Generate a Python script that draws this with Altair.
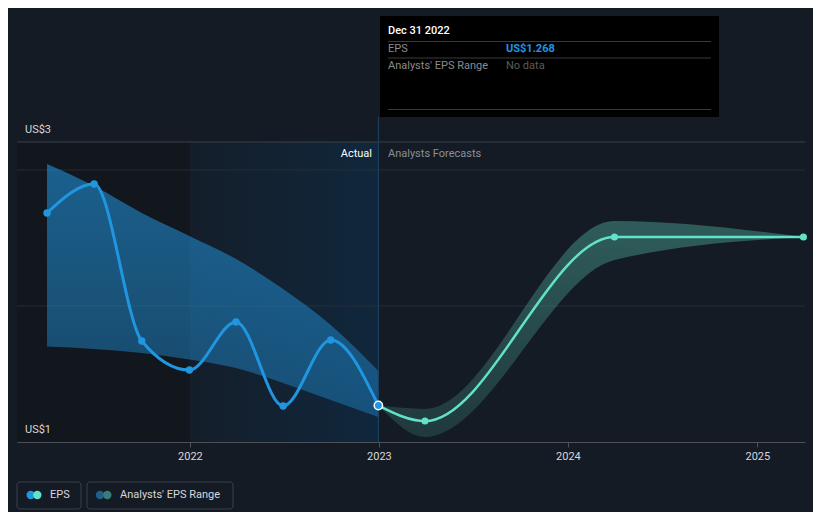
import altair as alt
import pandas as pd

# ---- data ----
actual_dates = ["2021-03-31", "2021-06-30", "2021-09-30", "2021-12-31",
                "2022-03-31", "2022-06-30", "2022-09-30", "2022-12-31"]
actual_eps = [2.684, 2.897, 1.743, 1.529, 1.882, 1.265, 1.750, 1.268]
past_range_high = [3.044, 2.882, 2.684, 2.515, 2.346, 2.125, 1.860, 1.522]
past_range_low = [1.702, 1.684, 1.654, 1.607, 1.544, 1.434, 1.309, 1.184]

forecast_dates = ["2022-12-31", "2023-03-31", "2024-03-31", "2025-03-31"]
forecast_eps = [1.268, 1.154, 2.507, 2.507]
forecast_high = [1.268, 1.243, 2.625, 2.507]
forecast_low = [1.268, 1.037, 2.338, 2.507]

grid_values = [2.0, 3.0]
y_top = 3.2059
y_bottom = 1.0
year_ticks = [2022, 2023, 2024, 2025]

BG = "#151b24"
BLUE = "#2196e0"
TEAL = "#62e2c9"
FONT = "Roboto"
FS = 11

actual = pd.DataFrame({"date": actual_dates, "v": actual_eps,
                       "hi": past_range_high, "lo": past_range_low})
fc = pd.DataFrame({"date": forecast_dates, "v": forecast_eps,
                   "hi": forecast_high, "lo": forecast_low})
grid = pd.DataFrame({"v": grid_values})
top = pd.DataFrame({"v": [y_top]})
regions = pd.DataFrame({"date": ["2021-02-01"], "date2": ["2022-01-01"],
                        "v": [y_bottom], "v2": [y_top]})
highlight = pd.DataFrame({"date": ["2022-01-01"], "date2": ["2022-12-31"],
                          "v": [y_bottom], "v2": [y_top]})
now = pd.DataFrame({"date": ["2022-12-31"]})
last = actual.tail(1)

xscale = alt.Scale(domain=[alt.DateTime(year=2021, month=2, date=1),
                           alt.DateTime(year=2025, month=4, date=3)])
yscale = alt.Scale(domain=[y_bottom, y_top], nice=False, zero=False)
xaxis = alt.Axis(values=[alt.DateTime(year=y, month=1, date=1) for y in year_ticks],
                 format="%Y", grid=False, domainColor="#4b5059", tickColor="#4b5059",
                 tickSize=5, labelColor="#d5d8dc", labelFontSize=11, labelPadding=3,
                 labelFont=FONT)
X = alt.X("date:T", scale=xscale, axis=xaxis, title=None)
Y = alt.Y("v:Q", scale=yscale, axis=None)

dark_region = alt.Chart(regions).mark_rect(color="#12161d").encode(
    x=X, x2="date2:T", y=Y, y2="v2:Q")
hl_region = alt.Chart(highlight).mark_rect(
    color=alt.Gradient(gradient="linear", x1=0, x2=1, y1=0, y2=0,
                       stops=[alt.GradientStop(color="#141e2a", offset=0),
                              alt.GradientStop(color="#10273c", offset=1)])
).encode(x=X, x2="date2:T", y=Y, y2="v2:Q")

grid_rules = alt.Chart(grid).mark_rule(color="#262c36", strokeWidth=1).encode(y=Y)
top_rule = alt.Chart(top).mark_rule(color="#3a4049", strokeWidth=1).encode(y=Y)

past_area = alt.Chart(actual).mark_area(
    interpolate="monotone",
    color=alt.Gradient(gradient="linear", x1=0, x2=0, y1=0, y2=1,
                       stops=[alt.GradientStop(color="rgba(33,150,224,0.58)", offset=0),
                              alt.GradientStop(color="rgba(33,150,224,0.38)", offset=1)])
).encode(x=X, y=alt.Y("hi:Q", scale=yscale, axis=None), y2="lo:Q")

fc_area = alt.Chart(fc).mark_area(
    interpolate="monotone",
    color=alt.Gradient(gradient="linear", x1=0, x2=0, y1=0, y2=1,
                       stops=[alt.GradientStop(color="rgba(98,226,201,0.33)", offset=0),
                              alt.GradientStop(color="rgba(98,226,201,0.15)", offset=1)])
).encode(x=X, y=alt.Y("hi:Q", scale=yscale, axis=None), y2="lo:Q")

now_rule = alt.Chart(now).mark_rule(color="#1d4566", strokeWidth=1).encode(
    x=X, y=alt.value(-25), y2=alt.value(300))

actual_line = alt.Chart(actual).mark_line(interpolate="monotone", color=BLUE,
                                          strokeWidth=3).encode(x=X, y=Y)
actual_pts = alt.Chart(actual).mark_circle(color=BLUE, size=55, opacity=1).encode(x=X, y=Y)
fc_line = alt.Chart(fc).mark_line(interpolate="monotone", color=TEAL,
                                  strokeWidth=2.5).encode(x=X, y=Y)
fc_pts = alt.Chart(fc.iloc[1:]).mark_circle(color=TEAL, size=50, opacity=1).encode(x=X, y=Y)
last_pt = alt.Chart(last).mark_point(shape="circle", filled=True, fill=BLUE, stroke="#ffffff",
                                     strokeWidth=1.5, size=70, opacity=1).encode(x=X, y=Y)


def txt(s, x, y, color="#d5d8dc", size=FS, align="left", weight="normal"):
    return alt.Chart(pd.DataFrame({"a": [0]})).mark_text(
        text=s, align=align, baseline="middle", color=color, fontSize=size,
        fontWeight=weight, font=FONT).encode(x=alt.value(x), y=alt.value(y))


def box(x, x2, y, y2, fill="transparent", stroke=None, radius=0):
    kw = dict(fill=fill, cornerRadius=radius)
    if stroke:
        kw.update(stroke=stroke, strokeWidth=1)
    return alt.Chart(pd.DataFrame({"a": [0]})).mark_rect(**kw).encode(
        x=alt.value(x), x2=alt.value(x2), y=alt.value(y), y2=alt.value(y2))


def hline(x, x2, y, color="#3a3a3a"):
    return alt.Chart(pd.DataFrame({"a": [0]})).mark_rule(color=color, strokeWidth=1).encode(
        x=alt.value(x), x2=alt.value(x2), y=alt.value(y))


def dot(x, y, color):
    return alt.Chart(pd.DataFrame({"a": [0]})).mark_circle(color=color, size=70, opacity=1).encode(
        x=alt.value(x), y=alt.value(y))


annotations = [
    txt("US$3", 8, -12),
    txt("US$1", 8, 288),
    txt("Actual", 355, 12, color="#ffffff", align="right"),
    txt("Analysts Forecasts", 371, 12, color="#8a8f96"),
    # tooltip box
    box(363, 702, -126, -25, fill="#000000"),
    hline(371, 694, -100.5),
    hline(371, 694, -84),
    hline(371, 694, -32.5),
    txt("Dec 31 2022", 371, -111, color="#ffffff", weight=500),
    txt("EPS", 371, -93, color="#8b8b8b"),
    txt("US$1.268", 489, -93, color=BLUE, weight="bold"),
    txt("Analysts' EPS Range", 371, -76, color="#8b8b8b"),
    txt("No data", 489, -76, color="#5c5c5c"),
    # legend
    box(0, 64, 340, 367, stroke="#3b414b", radius=3),
    box(70, 216, 340, 367, stroke="#3b414b", radius=3),
    dot(13.7, 353, BLUE),
    dot(20.3, 353, TEAL),
    txt("EPS", 33, 353),
    dot(83, 353, "#1f5f8c"),
    dot(90.3, 353, "#3a7d77"),
    txt("Analysts' EPS Range", 103, 353),
]

chart = alt.layer(
    dark_region, hl_region, grid_rules, top_rule, past_area, fc_area, now_rule,
    actual_line, fc_line, actual_pts, fc_pts, last_pt, *annotations
).properties(
    width=788, height=300,
    autosize=alt.AutoSizeParams(type="none"),
    padding={"left": 9, "top": 134, "right": 8, "bottom": 70},
    background=BG,
).configure(font=FONT).configure_view(strokeWidth=0, stroke="transparent")

chart.save("out.html", embed_options={"renderer": "svg", "actions": False})
